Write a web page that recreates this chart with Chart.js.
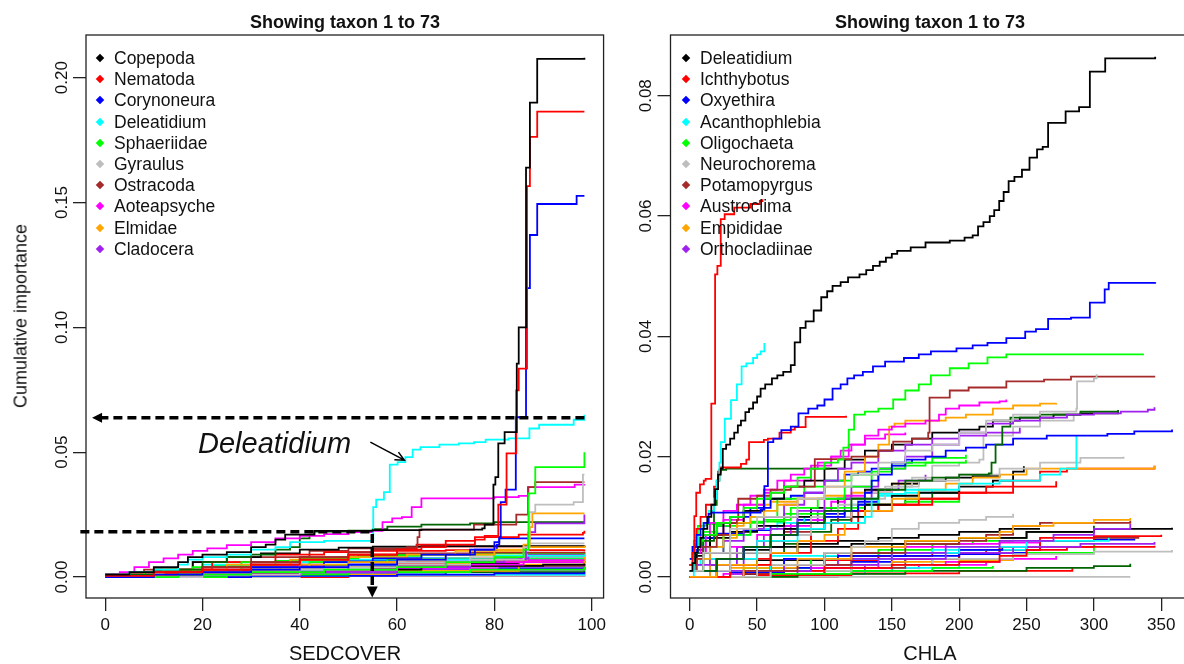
<!DOCTYPE html>
<html>
<head>
<meta charset="utf-8">
<script src="https://cdn.jsdelivr.net/npm/chart.js@4.4.1/dist/chart.umd.min.js"></script>
<style>
  body { margin: 0; width: 1184px; height: 664px; overflow: hidden; background: #fff; position: relative;
         font-family: "Liberation Sans", Arial, sans-serif; color: #111; }
  .panel { position: absolute; top: 0; height: 664px; }
  .txt { position: absolute; white-space: nowrap; }
  .title { font-weight: bold; font-size: 18px; transform: translate(-50%, -50%); }
  .xlab { font-size: 20px; transform: translate(-50%, -50%); }
  .ylab { font-size: 18px; transform: translate(-50%, -50%) rotate(-90deg); }
  .leg { position: absolute; font-size: 17.5px; line-height: 21.2px; }
  .leg div { position: relative; height: 21.2px; }
  .leg i { position: absolute; width: 6px; height: 6px; top: 7px; left: 0; transform: rotate(45deg); }
  .leg span { position: absolute; left: 17px; top: 0; }
  .note { font-size: 29px; font-style: italic; transform: translate(0, -50%); }
</style>
</head>
<body>
<div class="panel" style="left:0;width:610px"><canvas id="chartSed"></canvas></div>
<div class="panel" style="left:610px;width:600px"><canvas id="chartChla"></canvas></div>

<div class="txt title" style="left:345px;top:22px">Showing taxon 1 to 73</div>
<div class="txt title" style="left:930px;top:22px">Showing taxon 1 to 73</div>
<div class="txt xlab" style="left:345px;top:653px">SEDCOVER</div>
<div class="txt xlab" style="left:930px;top:653px">CHLA</div>
<div class="txt ylab" style="left:21px;top:316px">Cumulative importance</div>
<div class="txt note" style="left:198px;top:443px">Deleatidium</div>
<div class="leg" id="legSed" style="left:97px;top:48px"></div>
<div class="leg" id="legChla" style="left:683px;top:48px"></div>

<script>
// ---------- SEDCOVER panel ----------
const sedNames = ["Copepoda", "Nematoda", "Corynoneura", "Deleatidium", "Sphaeriidae",
                  "Gyraulus", "Ostracoda", "Aoteapsyche", "Elmidae", "Cladocera"];
const sedXTicks = [0, 20, 40, 60, 80, 100];
const sedYTicks = [0, 0.05, 0.10, 0.15, 0.20];

const sedCopepoda = [[0,0.001],[5,0.002],[10,0.004],[15,0.006],[17,0.008],[20,0.009],[25,0.010],[30,0.012],[33,0.013],[35,0.015],[37,0.017],[43,0.0185],[55,0.0188],[65,0.019],[77.5,0.0195],[78,0.021],[79.8,0.037],[80.2,0.040],[80.8,0.0535],[82.1,0.058],[84.6,0.0855],[85,0.100],[86.5,0.164],[87.3,0.190],[88.8,0.2075],[98.5,0.208]];
const sedNematoda = [[0,0.0005],[10,0.002],[20,0.003],[30,0.005],[40,0.007],[50,0.009],[60,0.011],[65,0.012],[70,0.013],[76,0.015],[78,0.0165],[80.8,0.029],[82.5,0.0495],[84.5,0.0748],[85,0.0835],[86.7,0.1566],[87.3,0.1763],[88.8,0.1864],[98.5,0.1864]];
const sedCorynoneura = [[0,0],[10,0.001],[20,0.002],[30,0.003],[40,0.004],[50,0.005],[60,0.007],[70,0.009],[76,0.011],[80,0.014],[81,0.016],[81.3,0.030],[82.3,0.035],[84.4,0.064],[86.5,0.100],[86.7,0.1157],[87.3,0.137],[88.8,0.1494],[96.9,0.1527],[98.5,0.1527]];
const sedDeleatidium = [[0,0.001],[5,0.002],[10,0.003],[15,0.005],[17,0.007],[20,0.008],[25,0.009],[30,0.011],[35,0.012],[38,0.014],[45,0.0145],[55,0.0148],[55.1,0.028],[55.7,0.031],[57.3,0.034],[58.5,0.045],[60.1,0.046],[61.7,0.048],[63.2,0.051],[64.8,0.052],[68.7,0.053],[72.7,0.0535],[75.8,0.054],[78.2,0.055],[82.9,0.0555],[87.2,0.0595],[89.2,0.061],[96.3,0.063],[98.5,0.065]];
const sedSphaeriidae = [[0,0],[15,0.001],[30,0.002],[45,0.003],[60,0.004],[70,0.006],[80,0.008],[86,0.011],[87,0.0335],[88.4,0.044],[98.3,0.044],[98.5,0.050]];
const sedGyraulus = [[0,0],[20,0.001],[40,0.003],[60,0.005],[75,0.007],[86,0.012],[87.2,0.026],[88.4,0.029],[96.3,0.030],[98.2,0.041],[98.5,0.041]];
const sedOstracoda = [[0,0],[10,0.002],[20,0.004],[30,0.006],[40,0.008],[50,0.010],[55,0.011],[62,0.012],[64.2,0.016],[64.6,0.019],[75.8,0.021],[84.5,0.025],[86.9,0.036],[88.4,0.038],[98.5,0.038]];
const sedAoteapsyche = [[0,0.001],[3,0.002],[6,0.004],[9,0.006],[12,0.0075],[15,0.009],[18,0.0105],[21,0.0115],[25,0.0128],[30,0.014],[35,0.0155],[40,0.0165],[45,0.0172],[50,0.018],[55,0.0185],[57,0.022],[59,0.0235],[61,0.024],[63,0.028],[65,0.0315],[80,0.032],[85,0.0325],[87,0.036],[96.5,0.037],[98.5,0.0372]];
const sedElmidae = [[0,0],[10,0.001],[20,0.002],[30,0.003],[40,0.005],[50,0.006],[60,0.007],[70,0.009],[80,0.011],[86,0.013],[87.3,0.020],[87.8,0.0255],[98.5,0.0255]];
const sedCladocera = [[0,0],[20,0.001],[40,0.002],[60,0.004],[75,0.006],[82,0.007],[86.5,0.012],[87,0.018],[88.4,0.0215],[98.3,0.0215],[98.5,0.025]];
const sedDarkGreen = [[0,0.001],[10,0.003],[20,0.006],[25,0.008],[30,0.009],[35,0.011],[38,0.012],[40,0.0155],[42,0.017],[43,0.0182],[50,0.0186],[55,0.0192],[58,0.0202],[65,0.021],[75,0.0215],[80,0.022],[98.5,0.022]];

const sedMinor = [
  [[0,0],[10,0.001],[20,0.003],[30,0.005],[40,0.007],[50,0.009],[60,0.011],[64,0.013],[70,0.0145],[76,0.016],[85,0.017],[98.2,0.0177],[98.5,0.0185]],
  [[0,0],[15,0.002],[30,0.004],[45,0.006],[55,0.0075],[65,0.009],[75,0.011],[80.5,0.013],[81,0.0155],[98.5,0.0155]],
  [[0,0.001],[12,0.003],[25,0.005],[38,0.007],[50,0.008],[62,0.009],[72,0.0105],[86,0.012],[98.5,0.0125]],
  [[0,0],[20,0.002],[40,0.004],[60,0.006],[75,0.008],[86.5,0.0105],[87,0.0135],[98.5,0.0135]],
  [[0,0],[10,0.002],[20,0.004],[30,0.006],[40,0.008],[50,0.009],[60,0.0095],[75,0.0098],[98.5,0.0102]],
  [[0,0],[8,0.002],[18,0.004],[28,0.006],[40,0.0075],[52,0.0085],[65,0.009],[80,0.0095],[98.5,0.010]],
  [[0,0],[15,0.001],[30,0.003],[45,0.005],[60,0.007],[80,0.0085],[98.5,0.009]],
  [[0,0],[20,0.001],[40,0.002],[60,0.004],[75,0.005],[86,0.006],[87,0.0068],[98.5,0.0068]],
  [[0,0],[15,0.001],[30,0.003],[50,0.005],[70,0.007],[85,0.0075],[87,0.009],[98.5,0.0092]],
  [[0,0],[20,0.001],[40,0.002],[55,0.003],[65,0.004],[75,0.0045],[90,0.005],[98.5,0.0052]],
  [[0,0.001],[10,0.003],[22,0.006],[35,0.009],[45,0.010],[55,0.0105],[70,0.0108],[98.5,0.011]],
  [[0,0],[25,0.001],[50,0.002],[75,0.003],[98.5,0.004]],
  [[0,0],[30,0.0005],[60,0.001],[80,0.0015],[98.5,0.002]],
  [[0,0],[20,0.0015],[40,0.003],[60,0.0045],[98.5,0.0055]],
  [[0,0],[30,0.001],[60,0.0025],[85,0.005],[98.5,0.0085]],
  [[0,0],[20,0.0005],[50,0.001],[98.5,0.0015]],
  [[0,0.001],[10,0.002],[30,0.004],[50,0.005],[70,0.006],[98.5,0.0062]],
  [[0,0],[40,0.0005],[98.5,0.001]],
  [[0,0],[25,0.001],[60,0.003],[98.5,0.0035]],
  [[0,0],[30,0.001],[70,0.002],[98.5,0.0025]],
  [[0,0],[50,0.0005],[98.5,0.0008]],
  [[0,0.001],[10,0.003],[18,0.006],[25,0.008],[32,0.0095],[40,0.011],[48,0.0118],[55,0.0122],[65,0.0124],[98.5,0.0126]],
  [[0,0],[15,0.002],[28,0.004],[42,0.006],[58,0.0072],[98.5,0.0075]],
  [[0,0.001],[8,0.003],[18,0.006],[30,0.008],[42,0.0105],[50,0.0115],[64,0.0122],[98.5,0.0125]],
  [[0,0],[35,0.001],[70,0.002],[81,0.0035],[98.5,0.004]],
  [[0,0],[20,0.002],[40,0.004],[55,0.0055],[75,0.0065],[98.5,0.007]],
  [[0,0],[15,0.001],[35,0.0025],[55,0.0035],[98.5,0.004]],
  [[0,0],[25,0.001],[55,0.002],[80,0.0025],[98.5,0.003]],
  [[0,0],[10,0.0005],[98.5,0.0005]],
  [[0,0.001],[10,0.003],[20,0.005],[30,0.006],[45,0.007],[60,0.0075],[98.5,0.008]],
  [[0,0],[15,0.0015],[30,0.003],[45,0.0045],[60,0.0055],[85,0.006],[98.5,0.0065]],
  [[0,0],[25,0.0015],[50,0.003],[80,0.0045],[98.5,0.005]],
  [[0,0],[12,0.0015],[28,0.003],[45,0.0045],[62,0.006],[85,0.0075],[98.5,0.0078]],
  [[0,0.001],[10,0.0025],[22,0.0045],[35,0.0065],[48,0.008],[60,0.009],[75,0.0095],[98.5,0.0098]],
  [[0,0],[18,0.002],[36,0.004],[55,0.006],[70,0.0075],[85,0.0085],[98.5,0.0088]],
  [[0,0],[30,0.0015],[60,0.0035],[85,0.0045],[98.5,0.0048]],
  [[0,0.001],[15,0.003],[30,0.005],[45,0.0065],[60,0.0075],[80,0.0085],[98.5,0.0087]],
  [[0,0],[20,0.0025],[40,0.0045],[60,0.006],[80,0.007],[98.5,0.0072]]
];
const sedMinorColors = ["#FF0000","#0000FF","#FFA500","#BEBEBE","#A52A2A","#00FF00","#00FFFF","#FF00FF","#A020F0","#000000",
  "#FF0000","#00FF00","#0000FF","#A52A2A","#FFA500","#00FFFF","#FF00FF","#BEBEBE","#A020F0","#006400",
  "#FF0000","#000000","#00FF00","#A52A2A","#0000FF","#FFA500","#FF00FF","#BEBEBE","#A020F0","#00FFFF",
  "#000000","#00FFFF","#FF0000","#00FF00","#FFA500","#A020F0","#0000FF","#FF00FF"];

// annotation values (data units)
const upperArrowY = 0.0638, upperArrowFrom = 98.5, upperArrowTo = -2.7;
const lowerLineY = 0.0181, lowerLineFrom = -5.1, lowerLineTo = 54.9, lowerArrowEnd = -0.0082;
const labelArrow = [[54.5, 0.054], [61.5, 0.0468]];

// ---------- CHLA panel ----------
const chlaNames = ["Deleatidium", "Ichthybotus", "Oxyethira", "Acanthophlebia", "Oligochaeta",
                   "Neurochorema", "Potamopyrgus", "Austroclima", "Empididae", "Orthocladiinae"];
const chlaXTicks = [0, 50, 100, 150, 200, 250, 300, 350];
const chlaYTicks = [0, 0.02, 0.04, 0.06, 0.08];

const chlaDeleatidium = [[0,0.001],[2,0.0023],[4,0.004],[6,0.005],[8,0.0065],[10,0.008],[13,0.010],[16,0.012],[18.8,0.0146],[21,0.017],[23,0.018],[24.5,0.0213],[27,0.022],[30,0.023],[33,0.024],[35.7,0.0252],[38,0.026],[41.3,0.0274],[44,0.028],[47,0.029],[50,0.030],[52.6,0.0313],[56,0.032],[61,0.033],[65,0.0335],[69.4,0.0341],[75,0.0352],[77.9,0.039],[82,0.0414],[86,0.0425],[92,0.0443],[97.6,0.0465],[102,0.0475],[106,0.0484],[112,0.049],[117.5,0.0498],[126,0.0503],[131,0.051],[136,0.0517],[141,0.0524],[145.6,0.0531],[150,0.0537],[154,0.0542],[164,0.0548],[175,0.0556],[193,0.0559],[204,0.0564],[210,0.0568],[214,0.0583],[218,0.059],[222.7,0.060],[226,0.061],[229.7,0.0625],[233,0.064],[236.7,0.0658],[241,0.0665],[246.6,0.0677],[252.2,0.0697],[257.8,0.0711],[262,0.0715],[266,0.0755],[279,0.0774],[289,0.0781],[297,0.084],[308.4,0.0862],[345.5,0.0865]];
const chlaIchthybotus = [[0,0.002],[2,0.004],[3.4,0.0101],[4.8,0.014],[7.6,0.0154],[10.4,0.016],[11.8,0.0163],[16,0.0288],[18.8,0.0503],[20.5,0.0517],[23,0.0595],[25.9,0.0603],[33,0.0614],[45,0.062],[52,0.0625],[54,0.0628]];
const chlaOxyethira = [[0,0.003],[2,0.005],[5,0.007],[8,0.008],[10.4,0.009],[14,0.0105],[16,0.0107],[52.6,0.0112],[55.4,0.0151],[58,0.0224],[62,0.023],[68,0.0244],[75,0.025],[80.7,0.0272],[88,0.028],[94.7,0.0285],[100,0.0295],[106,0.0313],[112,0.032],[117,0.033],[122,0.0335],[128.5,0.0341],[136,0.035],[145,0.0358],[159,0.0364],[170,0.037],[179,0.0375],[198,0.038],[210,0.0385],[221,0.0389],[235,0.0397],[249,0.0408],[257,0.0412],[266,0.0429],[283,0.0431],[297,0.0456],[308,0.0478],[311,0.0489],[345.5,0.049]];
const chlaAcanthophlebia = [[0,0.001],[3,0.004],[6,0.007],[10,0.009],[14,0.011],[18,0.013],[20,0.016],[22,0.019],[23,0.0224],[26,0.0263],[30.6,0.0294],[35,0.032],[38.5,0.035],[42,0.0355],[47,0.0364],[50,0.037],[52.6,0.0375],[55.4,0.0389]];
const chlaOligochaeta = [[0,0.002],[3,0.004],[6,0.006],[10,0.007],[20,0.009],[30,0.010],[40,0.0115],[50,0.013],[60,0.014],[70,0.015],[80,0.0165],[90,0.018],[100,0.019],[110,0.0195],[114,0.0215],[118,0.0245],[122,0.027],[130,0.0275],[140,0.028],[151,0.0295],[160,0.031],[170,0.032],[179,0.0335],[193,0.0347],[207,0.0355],[221,0.0365],[235,0.037],[336.5,0.0371]];
const chlaNeurochorema = [[0,0.001],[10,0.004],[30,0.008],[50,0.010],[80,0.013],[100,0.015],[120,0.017],[140,0.019],[160,0.021],[180,0.022],[200,0.024],[220,0.026],[240,0.027],[260,0.0275],[287,0.028],[287.5,0.0325],[300,0.033],[302,0.0337]];
const chlaPotamopyrgus = [[0,0.001],[5,0.003],[10,0.005],[20,0.007],[30,0.009],[35,0.0095],[36,0.013],[50,0.0135],[60,0.0145],[75,0.015],[92.8,0.0196],[120,0.020],[140,0.021],[151,0.0225],[165,0.023],[177,0.024],[178,0.0298],[193,0.031],[207,0.0315],[235,0.0325],[263,0.0328],[283,0.0333],[345.5,0.0333]];
const chlaAustroclima = [[0,0.002],[3,0.004],[8,0.007],[15,0.009],[25,0.011],[35,0.012],[45,0.0135],[55,0.0145],[65,0.016],[75,0.017],[85,0.018],[95,0.019],[105,0.020],[112,0.021],[120,0.022],[130,0.0235],[140,0.0245],[150,0.025],[160,0.0255],[175,0.026],[185,0.027],[190,0.028],[200,0.0285],[215,0.029],[230,0.0292],[235,0.0295]];
const chlaEmpididae = [[0,0.001],[5,0.003],[15,0.005],[25,0.007],[35,0.009],[45,0.010],[55,0.011],[65,0.012],[80,0.013],[100,0.015],[115,0.0175],[130,0.020],[140,0.022],[148,0.025],[152,0.0255],[160,0.026],[190,0.0265],[205,0.027],[225,0.028],[240,0.0285],[260,0.0288],[272,0.0289]];
const chlaOrthocladiinae = [[0,0.001],[5,0.002],[15,0.004],[25,0.006],[40,0.008],[55,0.010],[70,0.012],[85,0.014],[100,0.016],[110,0.018],[120,0.019],[140,0.021],[160,0.022],[180,0.023],[200,0.024],[220,0.0255],[240,0.026],[260,0.0265],[280,0.027],[300,0.0272],[320,0.0275],[340,0.0278],[345,0.0282]];

const chlaMinor = [
  [[0,0.001],[3,0.005],[5,0.008],[8,0.010],[12,0.012],[18,0.015],[21,0.0175],[23,0.0182],[38,0.0188],[42,0.0195],[44,0.0224],[55,0.0228],[58,0.023],[66.6,0.024],[75,0.0245],[78,0.0249],[86,0.0266],[116,0.0268]],
  [[0,0.001],[10,0.006],[18,0.012],[20,0.016],[22,0.0178],[27,0.018],[104,0.018]],
  [[0,0.001],[20,0.003],[40,0.005],[60,0.007],[80,0.009],[100,0.011],[120,0.013],[140,0.0145],[160,0.016],[180,0.0165],[200,0.017],[222,0.0172],[224,0.019],[227,0.022],[232,0.025],[238,0.0265],[260,0.027],[290,0.0275],[318,0.0277]],
  [[0,0.002],[5,0.004],[15,0.007],[25,0.009],[40,0.011],[55,0.013],[70,0.015],[85,0.016],[100,0.018],[115,0.0195],[130,0.021],[150,0.022],[165,0.023],[180,0.024],[200,0.0245],[215,0.025],[225,0.026],[245,0.0265],[270,0.027],[290,0.0272],[318,0.0277]],
  [[0,0.001],[20,0.003],[40,0.005],[60,0.007],[80,0.009],[100,0.010],[115,0.011],[125,0.012],[130,0.014],[135,0.016],[140,0.017],[150,0.0185],[160,0.0195],[175,0.020],[190,0.021],[205,0.0215],[220,0.022],[240,0.023],[265,0.0235],[310,0.0238],[330,0.0242],[358,0.0245]],
  [[0,0.001],[20,0.003],[50,0.006],[80,0.008],[100,0.009],[130,0.010],[135,0.013],[140,0.0138],[160,0.0145],[200,0.0155],[230,0.016],[260,0.017],[275,0.018],[287,0.0235]],
  [[0,0.001],[30,0.004],[60,0.007],[90,0.010],[120,0.013],[145,0.015],[170,0.016],[200,0.017],[230,0.018],[260,0.019],[290,0.0198],[322,0.020]],
  [[0,0.001],[10,0.004],[25,0.007],[45,0.010],[65,0.013],[85,0.015],[100,0.016],[120,0.017],[140,0.018],[160,0.019],[180,0.0198],[205,0.0203]],
  [[0,0],[20,0.002],[50,0.004],[80,0.006],[100,0.007],[115,0.009],[130,0.011],[150,0.013],[170,0.0145],[190,0.0155],[210,0.0165],[230,0.017],[250,0.018],[345,0.0185]],
  [[0,0],[30,0.003],[60,0.006],[90,0.009],[120,0.011],[150,0.012],[180,0.013],[200,0.014],[220,0.015],[240,0.016],[260,0.0175],[280,0.018],[345,0.0185]],
  [[0,0.001],[20,0.003],[40,0.005],[70,0.008],[100,0.010],[130,0.012],[150,0.0135],[170,0.014],[200,0.015],[225,0.016],[240,0.0175],[248,0.0184]],
  [[0,0],[30,0.002],[60,0.004],[90,0.006],[110,0.008],[125,0.011],[140,0.012],[170,0.013],[200,0.014],[240,0.015],[272,0.0159]],
  [[0,0.001],[5,0.004],[12,0.007],[25,0.0095],[40,0.012],[55,0.014],[70,0.016],[90,0.0185],[105,0.020],[118,0.022],[130,0.023],[145,0.0237],[160,0.024]],
  [[0,0.002],[4,0.0055],[10,0.0075],[20,0.0085],[35,0.009],[55,0.0095],[75,0.0115],[95,0.013],[115,0.015],[135,0.0175],[150,0.0185],[175,0.019],[205,0.0195]],
  [[0,0],[20,0.002],[40,0.005],[60,0.008],[80,0.011],[100,0.013],[120,0.015],[140,0.018],[160,0.020],[180,0.022],[200,0.0235],[220,0.024],[245,0.0248]],
  [[0,0],[50,0.002],[100,0.004],[120,0.005],[130,0.006],[150,0.008],[170,0.009],[200,0.0095],[220,0.010],[240,0.0105]],
  [[0,0],[40,0.002],[80,0.003],[120,0.005],[160,0.006],[200,0.0065],[230,0.0075],[240,0.0085],[270,0.009],[300,0.0095],[327,0.0098]],
  [[0,0],[40,0.001],[80,0.002],[120,0.004],[160,0.0055],[200,0.006],[220,0.007],[240,0.0085],[260,0.009],[327,0.0093]],
  [[0,0],[30,0.001],[70,0.002],[110,0.003],[150,0.004],[190,0.005],[230,0.006],[270,0.007],[300,0.008],[327,0.0088]],
  [[0,0.001],[20,0.003],[40,0.004],[80,0.005],[120,0.0055],[160,0.006],[200,0.0065],[250,0.0075],[300,0.008],[358,0.0082]],
  [[0,0],[50,0.002],[100,0.004],[150,0.0055],[200,0.0065],[250,0.0075],[300,0.0085]],
  [[0,0],[30,0.001],[60,0.002],[100,0.003],[150,0.004],[200,0.005],[250,0.006],[311,0.0065]],
  [[0,0],[40,0.001],[90,0.002],[140,0.003],[190,0.004],[240,0.005],[290,0.0055],[345,0.0058]],
  [[0,0],[50,0.001],[100,0.0015],[150,0.002],[200,0.0025],[230,0.0035],[250,0.0045],[280,0.005],[345,0.0052]],
  [[0,0],[60,0.001],[120,0.002],[180,0.003],[240,0.0038],[300,0.0042],[358,0.0045]],
  [[0,0],[40,0.001],[90,0.0015],[140,0.002],[190,0.0025],[230,0.003],[272,0.0035]],
  [[0,0.001],[30,0.002],[70,0.003],[110,0.0035],[160,0.004],[200,0.0045],[232,0.0048]],
  [[0,0],[60,0.0005],[120,0.001],[180,0.0015],[225,0.0018]],
  [[0,0],[80,0.0005],[160,0.001],[250,0.0015],[300,0.0018],[327,0.0022]],
  [[0,0],[327,0]],
  [[0,0],[50,0.0003],[120,0.0006],[200,0.001],[284,0.0015]],
  [[0,0],[20,0.001],[60,0.002],[100,0.003],[150,0.0035],[200,0.004],[250,0.0042]],
  [[0,0.001],[30,0.0015],[80,0.002],[150,0.0025],[200,0.0028],[240,0.003]],
  [[0,0],[40,0.001],[100,0.002],[150,0.003],[200,0.004],[230,0.005],[260,0.0065],[300,0.0068],[350,0.007]],
  [[0,0],[40,0.0005],[100,0.0015],[160,0.003],[200,0.004],[230,0.005],[260,0.006],[300,0.0065],[333,0.0068]],
  [[0,0],[60,0.001],[120,0.002],[180,0.003],[240,0.004],[300,0.0055]],
  [[0,0],[50,0.0005],[100,0.001],[150,0.0015],[200,0.002]],
  [[0,0],[40,0.0005],[100,0.001],[150,0.0015]],
  [[0,0],[110,0.0002]],
  [[0,0],[30,0.0005],[80,0.001],[130,0.002],[180,0.003]],
  [[0,0.001],[30,0.002],[70,0.003],[110,0.004],[150,0.005],[190,0.0055],[230,0.0057],[260,0.006]],
  [[0,0.002],[5,0.0045],[10,0.0065],[20,0.0085],[30,0.010],[45,0.0115],[60,0.013],[75,0.0135],[85,0.014],[100,0.016],[115,0.017],[125,0.0175],[135,0.018],[150,0.019],[165,0.0195]],
  [[0,0.002],[3,0.0035],[10,0.004],[40,0.0045],[60,0.005],[80,0.0055],[110,0.006],[140,0.0065],[170,0.007],[200,0.0075],[230,0.008],[260,0.008]],
  [[0,0.001],[30,0.004],[60,0.007],[90,0.010],[110,0.012],[130,0.014],[150,0.015],[165,0.0165],[180,0.0185],[200,0.019],[215,0.0195],[218,0.0235],[240,0.025],[260,0.026],[285,0.027]],
  [[0,0],[3,0.002],[8,0.003],[60,0.0035],[120,0.004],[180,0.0045],[250,0.005]],
  [[0,0.003],[3,0.006],[6,0.0085],[12,0.0088],[25,0.009],[45,0.0092],[70,0.0105],[100,0.0115],[130,0.012],[160,0.0125],[200,0.013]],
  [[0,0.002],[5,0.004],[15,0.0065],[30,0.0075],[50,0.0085],[70,0.010],[90,0.0115],[110,0.013],[130,0.0145],[150,0.0155],[170,0.016],[190,0.0165],[210,0.0168],[230,0.017]],
  [[0,0.001],[10,0.003],[30,0.005],[50,0.007],[70,0.0085],[90,0.0095],[100,0.011],[105,0.0125],[115,0.0135],[130,0.014],[150,0.0145]],
  [[0,0.002],[10,0.005],[25,0.007],[45,0.008],[65,0.009],[85,0.010],[100,0.011],[120,0.012],[140,0.0135],[160,0.014],[180,0.0145]],
  [[0,0],[15,0.003],[30,0.0065],[35,0.0085],[40,0.011],[50,0.012],[60,0.0125],[80,0.013],[100,0.0135],[120,0.014],[150,0.0155],[170,0.016]],
  [[0,0],[15,0.002],[35,0.005],[55,0.007],[75,0.009],[95,0.011],[115,0.013],[135,0.0145],[155,0.016],[175,0.017]],
  [[0,0.001],[20,0.003],[35,0.005],[50,0.006],[70,0.0075],[90,0.009],[110,0.011],[125,0.012],[140,0.0125]],
  [[0,0.002],[3,0.005],[8,0.0065],[20,0.0072],[40,0.0078],[60,0.0085],[80,0.0095],[100,0.0105],[115,0.011],[125,0.0125],[140,0.0135]],
  [[0,0.001],[20,0.002],[50,0.004],[70,0.0055],[90,0.0075],[105,0.0095],[120,0.011],[140,0.012],[160,0.013],[180,0.014],[200,0.0145]],
  [[0,0],[20,0.001],[60,0.002],[100,0.0028],[140,0.0035],[180,0.004],[220,0.0045],[260,0.005],[300,0.0053]],
  [[0,0],[30,0.0008],[70,0.0015],[120,0.0025],[160,0.003],[200,0.0038],[230,0.0045],[260,0.006],[300,0.0062],[330,0.0064]],
  [[0,0],[25,0.0005],[70,0.001],[120,0.0015],[170,0.002],[220,0.0028]],
  [[0,0],[40,0.0015],[90,0.003],[140,0.0045],[180,0.0055],[210,0.006],[240,0.0062]],
  [[0,0],[60,0.0005],[130,0.001],[170,0.0012]],
  [[0,0.001],[15,0.002],[50,0.0028],[100,0.0035],[150,0.004],[200,0.0045],[250,0.0048]]
];
const chlaMinorColors = ["#FF0000","#006400","#006400","#000000","#0000FF","#00FFFF","#BEBEBE","#00FF00","#FFA500","#FF0000",
  "#000000","#FF0000","#FF00FF","#00FF00","#A020F0","#BEBEBE","#FFA500","#A52A2A","#A020F0","#000000",
  "#006400","#00FFFF","#A020F0","#FF0000","#BEBEBE","#FF00FF","#0000FF","#00FF00","#006400","#BEBEBE",
  "#FF0000","#0000FF","#FFA500","#FF0000","#A52A2A","#00FF00","#00FFFF","#000000","#A52A2A","#A020F0",
  "#FF00FF","#0000FF","#000000","#BEBEBE","#00FFFF","#00FF00","#000000","#FF00FF","#00FFFF","#FFA500",
  "#A020F0","#A52A2A","#0000FF","#006400","#FF0000","#0000FF","#FF00FF","#00FF00","#00FFFF","#000000"];

const mainColors = ["#000000","#FF0000","#0000FF","#00FFFF","#00FF00","#BEBEBE","#A52A2A","#FF00FF","#FFA500","#A020F0"];

// ---------- helpers ----------
const FONT = '"Liberation Sans", Arial, sans-serif';

function toDataset(points, color) {
  return {
    data: points.map(p => ({ x: p[0], y: p[1] })),
    borderColor: color,
    borderWidth: 1.8,
    pointRadius: 0,
    stepped: true,
    fill: false
  };
}

function fillLegend(id, names) {
  const el = document.getElementById(id);
  names.forEach((n, i) => {
    const row = document.createElement("div");
    row.innerHTML = `<i style="background:${mainColors[i]}"></i><span>${n}</span>`;
    el.appendChild(row);
  });
}

const boxPlugin = {
  id: "rbox",
  afterDraw(chart) {
    const { ctx, chartArea: a } = chart;
    const ys = chart.scales.y;
    ctx.save();
    ctx.strokeStyle = "#222";
    ctx.lineWidth = 1.3;
    ctx.strokeRect(a.left, a.top, a.right - a.left, a.bottom - a.top);
    ctx.fillStyle = "#111";
    ctx.font = "17px " + FONT;
    ctx.textAlign = "center";
    ctx.textBaseline = "middle";
    ys.ticks.forEach(t => {
      ctx.save();
      ctx.translate(a.left - 24, ys.getPixelForValue(t.value));
      ctx.rotate(-Math.PI / 2);
      ctx.fillText(t.value.toFixed(2), 0, 0);
      ctx.restore();
    });
    ctx.restore();
  }
};

function arrowHead(ctx, x, y, angle, len, half) {
  ctx.save();
  ctx.translate(x, y);
  ctx.rotate(angle);
  ctx.beginPath();
  ctx.moveTo(0, 0);
  ctx.lineTo(-len, -half);
  ctx.lineTo(-len, half);
  ctx.closePath();
  ctx.fill();
  ctx.restore();
}

const sedNotes = {
  id: "sedNotes",
  afterDraw(chart) {
    const { ctx } = chart;
    const xs = chart.scales.x, ys = chart.scales.y;
    ctx.save();
    ctx.strokeStyle = "#000";
    ctx.fillStyle = "#000";
    ctx.lineWidth = 3.5;
    ctx.setLineDash([9, 5]);
    // upper arrow
    const uy = ys.getPixelForValue(upperArrowY);
    const ux1 = xs.getPixelForValue(upperArrowFrom), ux2 = xs.getPixelForValue(upperArrowTo);
    ctx.beginPath(); ctx.moveTo(ux1, uy); ctx.lineTo(ux2 + 9, uy); ctx.stroke();
    // lower line and vertical arrow
    const ly = ys.getPixelForValue(lowerLineY);
    const lx1 = xs.getPixelForValue(lowerLineFrom), lx2 = xs.getPixelForValue(lowerLineTo);
    const lyEnd = ys.getPixelForValue(lowerArrowEnd);
    ctx.beginPath(); ctx.moveTo(lx1, ly); ctx.lineTo(lx2, ly); ctx.lineTo(lx2, lyEnd - 9); ctx.stroke();
    ctx.setLineDash([]);
    arrowHead(ctx, ux2, uy, Math.PI, 10, 5);
    arrowHead(ctx, lx2, lyEnd, Math.PI / 2, 11, 5.5);
    // label pointer
    const px1 = xs.getPixelForValue(labelArrow[0][0]), py1 = ys.getPixelForValue(labelArrow[0][1]);
    const px2 = xs.getPixelForValue(labelArrow[1][0]), py2 = ys.getPixelForValue(labelArrow[1][1]);
    ctx.lineWidth = 1.5;
    ctx.beginPath(); ctx.moveTo(px1, py1); ctx.lineTo(px2, py2);
    const ang = Math.atan2(py2 - py1, px2 - px1);
    ctx.moveTo(px2 - 10 * Math.cos(ang - 0.45), py2 - 10 * Math.sin(ang - 0.45));
    ctx.lineTo(px2, py2);
    ctx.lineTo(px2 - 10 * Math.cos(ang + 0.45), py2 - 10 * Math.sin(ang + 0.45));
    ctx.stroke();
    ctx.restore();
  }
};

function makeChart(canvasId, setup) {
  const datasets = [];
  setup.major.forEach((pts, i) => datasets.push(toDataset(pts, setup.majorColors[i])));
  setup.minor.forEach((pts, i) => datasets.push(toDataset(pts, setup.minorColors[i])));
  const tickGrid = { display: true, drawOnChartArea: false, drawTicks: true, tickLength: 13, color: "#222", lineWidth: 1.3 };
  return new Chart(document.getElementById(canvasId), {
    type: "line",
    data: { datasets },
    options: {
      responsive: true,
      maintainAspectRatio: false,
      animation: false,
      layout: { padding: { top: 35, right: setup.padRight, left: 0, bottom: 0 } },
      plugins: { legend: { display: false }, tooltip: { enabled: false } },
      scales: {
        x: {
          type: "linear",
          min: setup.xMin, max: setup.xMax,
          afterBuildTicks: s => { s.ticks = setup.xTicks.map(v => ({ value: v })); },
          afterFit: s => { s.height = 66; },
          grid: tickGrid,
          border: { display: false },
          ticks: { color: "#111", font: { family: FONT, size: 17 }, padding: 4, maxRotation: 0,
                   callback: v => String(v) }
        },
        y: {
          type: "linear",
          min: setup.yMin, max: setup.yMax,
          afterBuildTicks: s => { s.ticks = setup.yTicks.map(v => ({ value: v })); },
          afterFit: s => { s.width = setup.yWidth; },
          grid: tickGrid,
          border: { display: false },
          ticks: { display: false }
        }
      }
    },
    plugins: setup.plugins
  });
}

fillLegend("legSed", sedNames);
fillLegend("legChla", chlaNames);

makeChart("chartSed", {
  major: [sedCopepoda, sedNematoda, sedCorynoneura, sedDeleatidium, sedSphaeriidae, sedGyraulus,
          sedOstracoda, sedAoteapsyche, sedElmidae, sedCladocera, sedDarkGreen],
  majorColors: mainColors.concat(["#006400"]),
  minor: sedMinor, minorColors: sedMinorColors,
  xMin: -3.94, xMax: 102.44, yMin: -0.0084, yMax: 0.2171,
  xTicks: sedXTicks, yTicks: sedYTicks,
  yWidth: 86, padRight: 5,
  plugins: [boxPlugin, sedNotes]
});

makeChart("chartChla", {
  major: [chlaDeleatidium, chlaIchthybotus, chlaOxyethira, chlaAcanthophlebia, chlaOligochaeta,
          chlaNeurochorema, chlaPotamopyrgus, chlaAustroclima, chlaEmpididae, chlaOrthocladiinae],
  majorColors: mainColors,
  minor: chlaMinor, minorColors: chlaMinorColors,
  xMin: -14.3, xMax: 372.3, yMin: -0.0035, yMax: 0.0901,
  xTicks: chlaXTicks, yTicks: chlaYTicks,
  yWidth: 60.5, padRight: 18.7,
  plugins: [boxPlugin]
});
</script>
</body>
</html>
